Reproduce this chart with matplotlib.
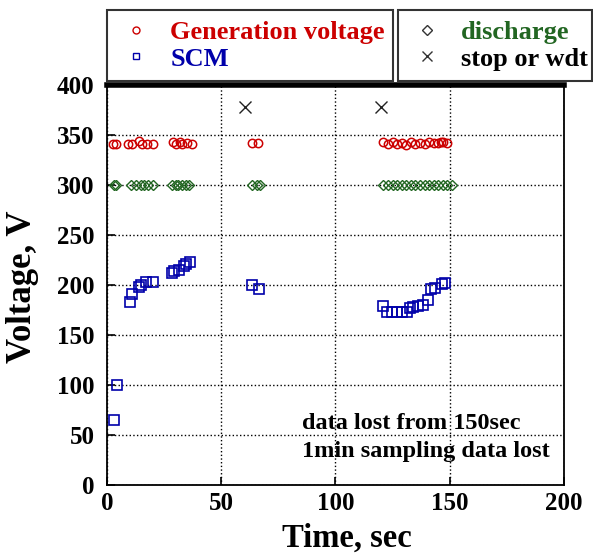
import numpy as np
import matplotlib
matplotlib.use("Agg")
import matplotlib.pyplot as plt
from matplotlib.lines import Line2D

plt.rcParams['font.family'] = ['Liberation Serif', 'DejaVu Serif']
plt.rcParams['font.weight'] = 'bold'

# generation voltage (red circles)
gen_t = [2.5, 4, 9, 11, 14, 15.5, 17.5, 20, 29, 30, 32, 33, 35, 37, 63.5, 66,
         121, 123, 125, 127, 129, 131, 133, 135, 137, 139, 141, 143, 145, 146, 147, 149]
gen_v = [341, 341, 341, 341, 344, 341, 341, 341, 343, 341, 343, 341, 342, 341, 342, 342,
         343, 341, 343, 341, 342, 340, 343, 341, 342, 341, 343, 342, 342, 343, 343, 342]

# discharge (green diamonds)
dis_t = [3, 4, 10.5, 12.7, 15, 16, 18, 20, 28.4, 30, 31, 32.7, 34.5, 36, 63.5, 65.6, 67,
         121, 123, 125, 127, 129, 131, 133, 135, 137, 139, 141, 143, 145, 147, 149, 151]
dis_v = [300] * len(dis_t)

# SCM (blue squares)
scm_t = [3, 4.4, 10, 11, 14, 15, 17, 20, 28.3, 29.3, 31.5, 33.7, 34.6, 36.3, 63.3, 66.4,
         121, 122.6, 124.8, 126.8, 129, 131.3, 132.6, 134, 136, 138.3, 140.5, 142, 143.6, 146.5, 148]
scm_v = [65, 100, 183, 191, 198, 200, 203, 203, 212, 214, 215, 219, 221, 223, 200, 196,
         179, 173, 173, 173, 173, 173, 177, 178, 179, 180, 185, 196, 197, 201, 202]

# stop or wdt (x marks)
stop_t = [60.4, 120]
stop_v = [378, 378]

red = '#cc0000'
blue = '#0000aa'
green = '#226622'

fig = plt.figure(figsize=(5.93, 5.58), dpi=100)
ax = fig.add_axes([0.1804, 0.1308, 0.7706, 0.7169])

ax.plot(gen_t, gen_v, 'o', ms=6, mfc='none', mec=red, mew=1.1, ls='none')
ax.plot(dis_t, dis_v, 'D', ms=5.5, mfc='none', mec=green, mew=1.0, ls='none')
ax.plot(scm_t, scm_v, 's', ms=7.5, mfc='none', mec=blue, mew=1.2, ls='none')
ax.plot(stop_t, stop_v, 'x', ms=9, mec='#222222', mew=1.0, ls='none')

ax.set_xlim(0, 200)
ax.set_ylim(0, 400)
ax.set_xticks(np.arange(0, 201, 50))
ax.set_yticks(np.arange(0, 401, 50))
ax.grid(True, color='black', linestyle=':', linewidth=1.0)
ax.tick_params(direction='in', labelsize=18, length=6, width=1.2)
ax.tick_params(axis='y', pad=9)
ax.tick_params(axis='x', pad=5)
for lab in ax.get_xticklabels() + ax.get_yticklabels():
    lab.set_fontweight('bold')
for s in ['left', 'right', 'bottom']:
    ax.spines[s].set_linewidth(1.3)
ax.spines['top'].set_linewidth(4)

ax.set_xlabel('Time, sec', fontsize=23.5, fontweight='bold')
ax.set_ylabel('Voltage, V', fontsize=25, fontweight='bold')
ax.xaxis.set_label_coords(0.525, -0.095)
ax.yaxis.set_label_coords(-0.148, 0.495)

ax.text(85.5, 62, 'data lost from 150sec', fontsize=17.5, fontweight='bold', va='center')
ax.text(85.5, 34, '1min sampling data lost', fontsize=17.5, fontweight='bold', va='center')

# legend boxes above the axes
h_gen = Line2D([], [], marker='o', ms=5, mfc='none', mec=red, ls='none')
h_scm = Line2D([], [], marker='s', ms=5, mfc='none', mec=blue, ls='none')
h_dis = Line2D([], [], marker='D', ms=5, mfc='none', mec='#333333', ls='none')
h_stop = Line2D([], [], marker='x', ms=7, mec='#333333', ls='none')

common = dict(loc='center left', mode='expand', frameon=True, fancybox=False,
              handlelength=1.4, handletextpad=0.6, borderpad=0.4, labelspacing=0.13,
              borderaxespad=0.0, prop={'weight': 'bold', 'size': 19})
leg1 = fig.legend([h_gen, h_scm], ['Generation voltage', 'SCM'],
                  bbox_to_anchor=(107 / 593, 1 - 82 / 558, 286 / 593, 73 / 558), **common)
leg2 = fig.legend([h_dis, h_stop], ['discharge', 'stop or wdt'],
                  bbox_to_anchor=(398 / 593, 1 - 82 / 558, 194 / 593, 73 / 558), **common)
for leg, cols in [(leg1, [red, blue]), (leg2, [green, 'black'])]:
    fr = leg.get_frame()
    fr.set_edgecolor('black')
    fr.set_linewidth(1.5)
    for t, c in zip(leg.get_texts(), cols):
        t.set_color(c)

fig.savefig('out.png', dpi=100)
